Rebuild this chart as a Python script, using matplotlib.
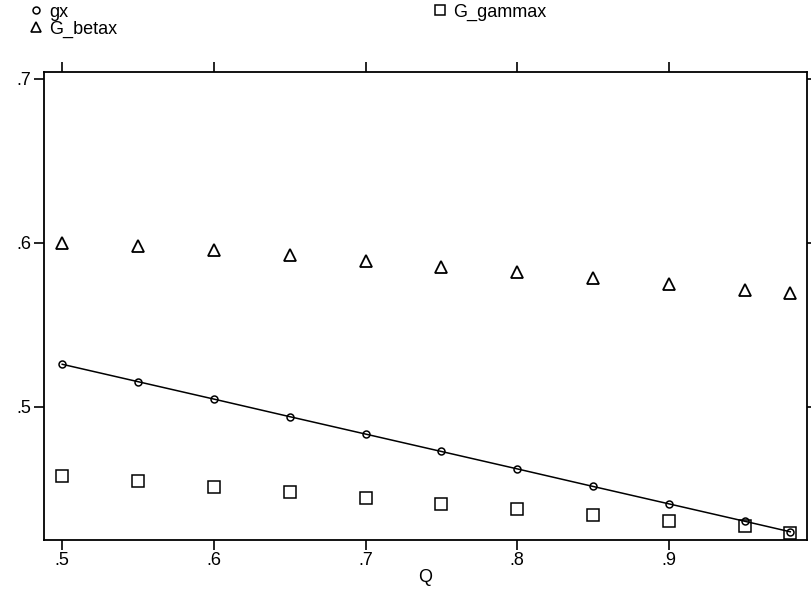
import numpy as np
import matplotlib
matplotlib.use('Agg')
import matplotlib.pyplot as plt
from matplotlib.lines import Line2D

plt.rcParams['font.family'] = ['Liberation Sans', 'DejaVu Sans']

# data
Q = [0.5, 0.55, 0.6, 0.65, 0.7, 0.75, 0.8, 0.85, 0.9, 0.95, 0.98]
gx = [0.526, 0.5154, 0.5048, 0.4941, 0.4835, 0.4729, 0.4623, 0.4516, 0.441, 0.4304, 0.424]
G_betax = [0.600, 0.598, 0.5955, 0.5925, 0.589, 0.5855, 0.582, 0.5785, 0.575, 0.5715, 0.5695]
G_gammax = [0.458, 0.4548, 0.4515, 0.448, 0.4447, 0.4412, 0.4378, 0.4343, 0.4308, 0.4273, 0.4235]
xticks = [0.5, 0.6, 0.7, 0.8, 0.9]
yticks = [0.5, 0.6, 0.7]

fig = plt.figure(figsize=(8.11, 5.93), dpi=100)
ax = fig.add_axes([0.0543, 0.0894, 0.9407, 0.7892])

ax.plot(Q, gx, color='black', lw=1.1, marker='o', ms=5, mfc='none', mec='black', mew=1.1)
ax.plot(Q, G_betax, ls='none', marker='^', ms=8, mfc='none', mec='black', mew=1.3)
ax.plot(Q, G_gammax, ls='none', marker='s', ms=8.5, mfc='none', mec='black', mew=1.1)

ax.set_xlim(0.488, 0.991)
ax.set_ylim(0.419, 0.704)
ax.set_xticks(xticks)
ax.set_xticklabels(['.' + str(int(round(t * 10))) for t in xticks])
ax.set_yticks(yticks)
ax.set_yticklabels(['.' + str(int(round(t * 10))) for t in yticks])
ax.tick_params(axis='both', direction='out', length=7.5, width=1.2, labelsize=13, colors='black', pad=1.5)
ax.tick_params(top=True, right=True, labeltop=False, labelright=False)
ax.tick_params(axis='y', right=True, length=7.5)
ax.set_xlabel('Q', fontsize=13, labelpad=0)
for s in ax.spines.values():
    s.set_linewidth(1.3)

# legend: markers only
handles = [Line2D([], [], ls='none', marker='o', ms=5, mfc='none', mec='black', mew=1.1),
           Line2D([], [], ls='none', marker='^', ms=7, mfc='none', mec='black', mew=1.2),
           Line2D([], [], ls='none', marker='s', ms=7, mfc='none', mec='black', mew=1.1)]
labels = ['gx', 'G_betax', 'G_gammax']
leg = fig.legend(handles, labels, ncol=2, loc='upper left', bbox_to_anchor=(0.038, 0.994),
                 frameon=False, fontsize=13, handlelength=0.6, handletextpad=0.4,
                 columnspacing=17.6, labelspacing=0.0, borderaxespad=0, borderpad=0)

fig.savefig('out.png', dpi=100)
